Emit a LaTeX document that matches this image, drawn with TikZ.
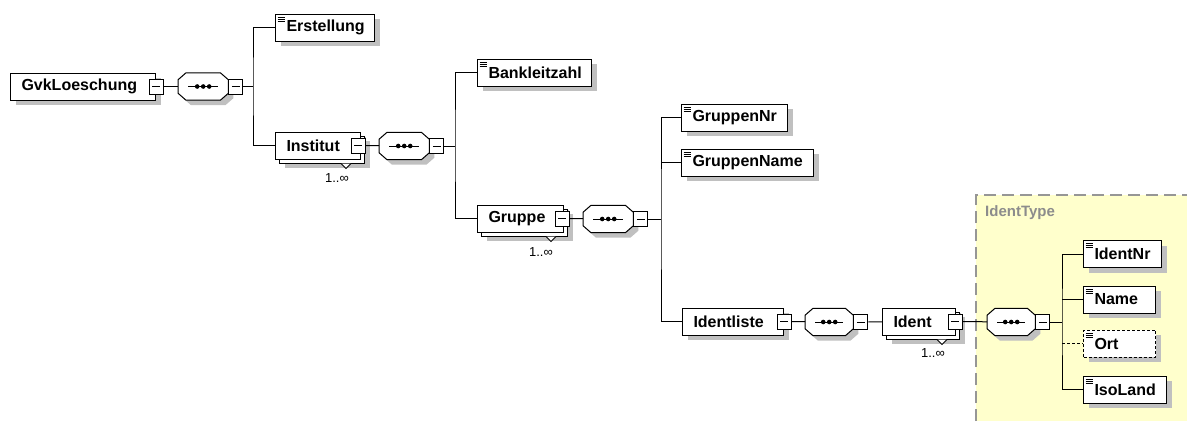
\documentclass[tikz,border=0pt]{standalone}
\usepackage{fontspec}
\setmainfont{Liberation Sans}
\usetikzlibrary{shadows}

\definecolor{shadowgray}{RGB}{192,192,192}
\definecolor{typebg}{RGB}{255,255,204}
\definecolor{typeframe}{RGB}{150,150,150}
\definecolor{typetext}{RGB}{140,140,140}

\tikzset{
  conn/.style={line width=1pt},
  boxshadow/.style={general shadow={fill=shadowgray,shadow xshift=#1,shadow yshift=-#1}},
  boxshadow/.default=5pt,
  elem/.style={rectangle,draw,line width=1pt,fill=white,anchor=west,
    minimum height=27pt,inner xsep=11pt,inner ysep=0pt,align=left,
    font=\bfseries\fontsize{16}{18}\selectfont,boxshadow},
  leaf/.style={elem,path picture={
    \foreach \k in {3,5,7}
      \draw[solid,line width=0.9pt] ([xshift=2pt,yshift=-\k pt]path picture bounding box.north west) -- ++(7,0);}},
  multi/.style={elem,boxshadow=9pt,
    copy shadow={shadow xshift=4pt,shadow yshift=-4pt,draw,fill=white,line width=1pt}},
  minus/.style={rectangle,draw,line width=1pt,fill=white,minimum width=14pt,minimum height=15pt,
    inner sep=0pt,path picture={
    \draw[line width=1pt] ([xshift=3pt]path picture bounding box.west) -- ([xshift=-3pt]path picture bounding box.east);}},
  seq/.style={rectangle,minimum width=50pt,minimum height=27pt,inner sep=0pt,anchor=west},
  seqline/.style={draw,line width=1pt,fill=white,boxshadow},
  mult/.style={font=\fontsize{13}{15}\selectfont,inner sep=0pt},
  many/.style={fill=white,line width=1pt}
}

% octagon of a sequence compositor round node #1
\newcommand{\seqdraw}[1]{%
  \draw[seqline] ([xshift=8pt]#1.north west) -- ([xshift=-8pt]#1.north east)
    -- ([yshift=-7pt]#1.north east) -- ([yshift=7pt]#1.south east)
    -- ([xshift=-8pt]#1.south east) -- ([xshift=8pt]#1.south west)
    -- ([yshift=7pt]#1.south west) -- ([yshift=-7pt]#1.north west) -- cycle;
  \draw[conn] ([xshift=10pt]#1.west) -- ([xshift=-10pt]#1.east);
  \foreach \d in {-6,0,6} \fill[black] ([xshift=\d pt]#1.center) circle (2.3pt);}

\begin{document}
\begin{tikzpicture}[x=1pt,y=-1pt]
\useasboundingbox (0,0) rectangle (1187,421);
% IdentType frame
\fill[typebg] (976,195) rectangle (1187,421);
\draw[typeframe,line width=1.2pt,dash pattern=on 12pt off 6pt] (976,421) -- (976,195) -- (1187,195);
\node[font=\bfseries\fontsize{15}{17}\selectfont,text=typetext,anchor=west,inner sep=0pt] (identtype) at (985,213) {IdentType};

% GvkLoeschung
\node[elem,text width=123pt] (gvk) at (10,86.5) {GvkLoeschung};
\node[minus] (gvkm) at (gvk.east) {};
\node[seq] (seq1) at (178,86.5) {};
\seqdraw{seq1}
\node[minus,anchor=west] (seq1m) at (seq1.east) {};
\coordinate (br1) at (253,86.5);
\node[leaf,text width=77pt] (erst) at (275,27.5) {Erstellung};
\node[multi,text width=63pt] (inst) at (275,145.5) {Institut};
\node[minus] (instm) at ([xshift=-3pt]inst.east) {};
\draw[many] ([xshift=-20pt,yshift=-4pt]inst.south east) -- ++(5,5) -- ++(5,-5);
\node[mult] (instn) at ([xshift=-24pt,yshift=-19pt]inst.south east) {1..∞};
\draw[conn] (gvkm) -- (seq1);
\draw[conn] (seq1m) -- (br1) (erst) -| (br1) |- (inst);

% Institut
\node[seq] (seq2) at (379,146) {};
\seqdraw{seq2}
\node[minus,anchor=west] (seq2m) at (seq2.east) {};
\coordinate (br2) at (455,146);
\node[leaf,text width=92pt] (blz) at (477,72.5) {Bankleitzahl};
\node[multi,text width=64pt] (grp) at (477,218.5) {Gruppe};
\node[minus] (grpm) at ([xshift=-2pt]grp.east) {};
\draw[many] ([xshift=-18pt,yshift=-4pt]grp.south east) -- ++(5,5) -- ++(5,-5);
\node[mult] (grpn) at ([xshift=-23pt,yshift=-20pt]grp.south east) {1..∞};
\draw[conn] (instm) -- (seq2);
\draw[conn] (seq2m) -- (br2) (blz) -| (br2) |- (grp);

% Gruppe
\node[seq] (seq3) at (583,219) {};
\seqdraw{seq3}
\node[minus,anchor=west] (seq3m) at (seq3.east) {};
\coordinate (br3) at (661,219);
\node[leaf,text width=84pt] (gnr) at (681,117.5) {GruppenNr};
\node[leaf,text width=110pt] (gname) at (681,162.5) {GruppenName};
\node[elem,text width=79pt] (ilist) at (682,321.5) {Identliste};
\node[minus] (ilistm) at (ilist.east) {};
\draw[conn] (grpm) -- (seq3);
\draw[conn] (seq3m) -- (br3) (gnr) -| (br3) |- (ilist);
\draw[conn] (br3 |- gname) -- (gname);

% Identliste
\node[seq,minimum width=48pt] (seq4) at (805,322) {};
\seqdraw{seq4}
\node[minus,anchor=west] (seq4m) at (seq4.east) {};
\node[multi,text width=51pt] (ident) at (882,321.5) {Ident};
\node[minus] (identm) at ([xshift=-1pt]ident.east) {};
\draw[many] ([xshift=-19pt,yshift=-4pt]ident.south east) -- ++(5,5) -- ++(5,-5);
\node[mult] (identn) at ([xshift=-23pt,yshift=-18pt]ident.south east) {1..∞};
\draw[conn] (ilistm) -- (seq4);
\draw[conn] (seq4m) -- (ident);

% IdentType
\node[seq,minimum width=48pt] (seq5) at (987,322) {};
\seqdraw{seq5}
\node[minus,anchor=west] (seq5m) at (seq5.east) {};
\coordinate (br5) at (1062,322);
\node[leaf,text width=56pt] (inr) at (1083,254) {IdentNr};
\node[leaf,text width=50pt] (name) at (1083,299.5) {Name};
\node[leaf,text width=50pt,dash pattern=on 3pt off 2pt] (ort) at (1083,343.5) {Ort};
\node[leaf,text width=61pt] (iso) at (1083,389.5) {IsoLand};
\draw[conn] (identm) -- (seq5);
\draw[conn] (seq5m) -- (br5) (inr) -| (br5) |- (iso);
\draw[conn] (br5 |- name) -- (name);
\draw[conn,dash pattern=on 3pt off 2pt] (br5 |- ort) -- (ort);
\end{tikzpicture}
\end{document}
